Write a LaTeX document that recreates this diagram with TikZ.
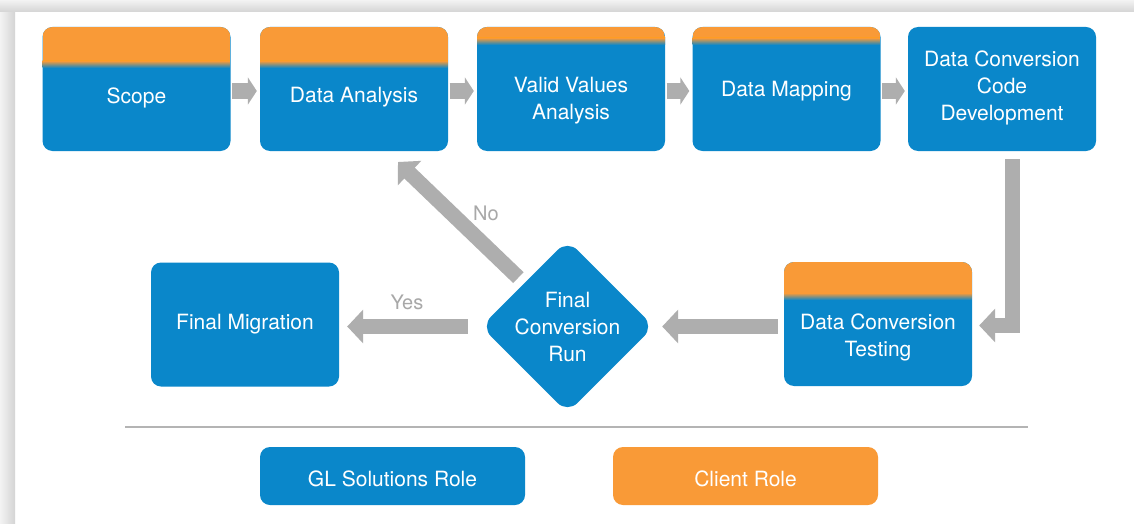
\documentclass[tikz,border=0pt]{standalone}
\usepackage{fontspec}
\setmainfont{TeX Gyre Heros}
\usetikzlibrary{arrows.meta,shapes.geometric,calc}
\definecolor{gblue}{HTML}{0A87CA}
\definecolor{corange}{HTML}{F99A37}
\definecolor{agray}{HTML}{AEAEAE}
\definecolor{sgray}{HTML}{B4B4B4}
\definecolor{tgray}{HTML}{A8A8A8}
\definecolor{fraA}{HTML}{F3F3F3}
\definecolor{fraB}{HTML}{D4D4D4}
\begin{document}
\begin{tikzpicture}[x=1pt,y=-1pt,
  stage/.style={fill=gblue, rounded corners=10pt, minimum width=188pt, minimum height=124pt, inner sep=0pt},
  band/.style={path picture={
    \fill[corange, sharp corners] (path picture bounding box.north west) rectangle ([yshift=-#1pt]path picture bounding box.north east);
    \shade[top color=corange, bottom color=gblue, sharp corners] ([yshift=-#1pt]path picture bounding box.north west) rectangle ([yshift=-#1pt-7pt]path picture bounding box.north east);}},
  lbl/.style={text=white, font=\fontsize{21}{27}\selectfont, align=center, inner sep=0pt},
  legendbox/.style={rounded corners=10pt, minimum width=265pt, minimum height=58pt, inner sep=0pt},
  smallarrow/.style={draw=agray, line width=16pt, -{Triangle[length=9pt,width=27pt]}, shorten <=1.5pt, shorten >=3pt},
  bigarrow/.style={draw=agray, line width=15pt, -{Triangle[length=16pt,width=33pt]}},
  choice/.style={text=tgray, font=\fontsize{20}{24}\selectfont, inner sep=0pt},
  sepline/.style={draw=sgray, line width=2.5pt}
]
\useasboundingbox (0,0) rectangle (1134,524);
\fill[white] (0,0) rectangle (1134,524);
% frame shadow
\shade[left color=fraA, right color=fraB] (0,0) rectangle (15,524);
\shade[top color=fraA, bottom color=fraB] (0,0) rectangle (1134,12);

% top row
\node[stage,band=34,label={[lbl,yshift=-9pt]center:Scope}] (scope) at (136.5,89) {};
\node[stage,band=34,label={[lbl,yshift=-8pt]center:Data Analysis}] (da) at (354,89) {};
\node[stage,band=11,label={[lbl,yshift=-12pt]center:{Valid Values\\Analysis}}] (vv) at (571,89) {};
\node[stage,band=11,label={[lbl,yshift=-2pt]center:Data Mapping}] (dm) at (786.5,89) {};
\node[stage,label={[lbl,yshift=1pt]center:{Data Conversion\\Code\\Development}}] (cd) at (1002,89) {};

% bottom row
\node[stage,band=31,label={[lbl,yshift=-13pt]center:{Data Conversion\\Testing}}] (dt) at (878,324) {};
\node[diamond, fill=gblue, rounded corners=14pt, minimum width=173pt, minimum height=173pt, inner sep=0pt,
      label={[lbl]center:{Final\\Conversion\\Run}}] (fc) at (567.5,326.5) {};
\node[stage,lbl] (fm) at (245,324.5) {Final Migration};

% arrows
\draw[smallarrow] ([yshift=-2pt]scope.east) -- ([yshift=-2pt]da.west);
\draw[smallarrow] ([yshift=-2pt]da.east) -- ([yshift=-2pt]vv.west);
\draw[smallarrow] ([yshift=-2pt]vv.east) -- ([yshift=-2pt]dm.west);
\draw[smallarrow] ([yshift=-2pt]dm.east) -- ([yshift=-2pt]cd.west);
\draw[bigarrow, shorten <=8pt, shorten >=7pt] ([xshift=10pt]cd.south) |- ([yshift=-1.5pt]dt.east);
\draw[bigarrow, shorten <=6pt, shorten >=8pt] (dt.west |- fc.east) -- (fc.east);
\draw[bigarrow, shorten <=13pt, shorten >=8pt] (fc.west) -- (fm.east |- fc.west);
\coordinate (noend) at (398,162);
\draw[bigarrow, shorten <=8pt] (fc.135) -- (noend);
\node[choice] (nolbl) at (486,213) {No};
\node[choice] (yeslbl) at (407,302) {Yes};

% separator and legend
\coordinate (sepL) at (125,427);
\coordinate (sepR) at (1028,427);
\draw[sepline] (sepL) -- (sepR);
\node[legendbox, fill=gblue, label={[lbl,yshift=-3pt]center:GL Solutions Role}] (gl) at (392.5,476) {};
\node[legendbox, fill=corange, label={[lbl,yshift=-3pt]center:Client Role}] (cl) at (745.5,476) {};
\end{tikzpicture}
\end{document}
